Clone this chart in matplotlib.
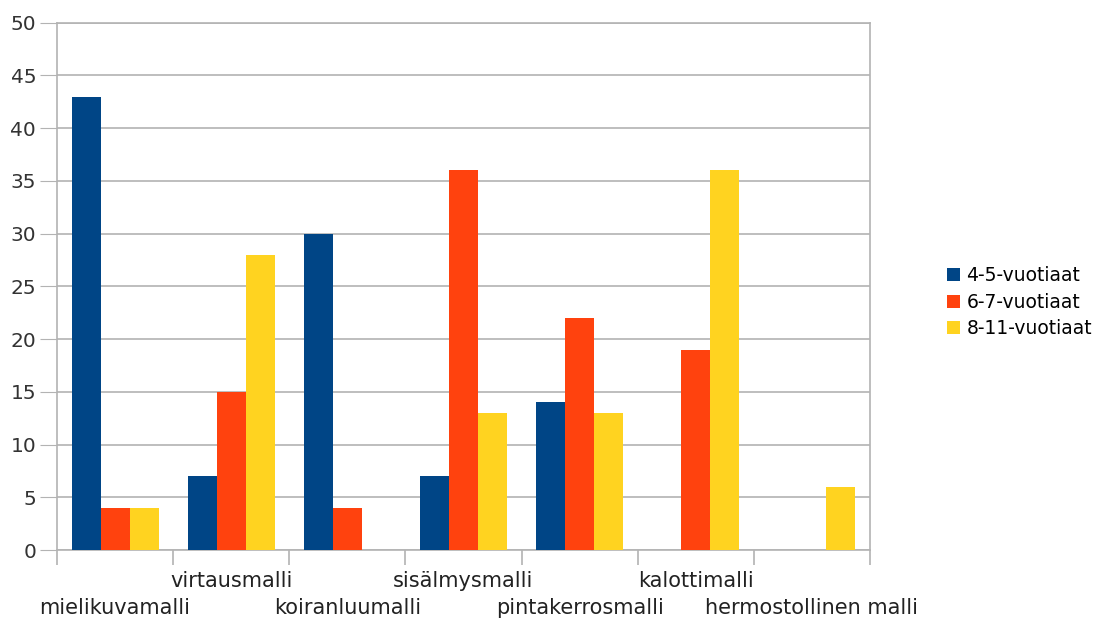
import matplotlib.pyplot as plt
import numpy as np

categories = ['mielikuvamalli', 'virtausmalli', 'koiranluumalli', 'sisälmysmalli',
              'pintakerrosmalli', 'kalottimalli', 'hermostollinen malli']
series_names = ['4-5-vuotiaat', '6-7-vuotiaat', '8-11-vuotiaat']
age_4_5 = [43, 7, 30, 7, 14, 0, 0]
age_6_7 = [4, 15, 4, 36, 22, 19, 0]
age_8_11 = [4, 28, 0, 13, 13, 36, 6]
colors = ['#004586', '#ff420e', '#ffd320']

plt.rcParams['font.family'] = ['DejaVu Sans']

fig = plt.figure(figsize=(11.1, 6.24), dpi=100)
ax = fig.add_axes([57 / 1110, 1 - 550 / 624, (870 - 57) / 1110, (550 - 22.7) / 624])

x = np.arange(len(categories)) + 0.5
width = 0.25
for k, (vals, name, col) in enumerate(zip([age_4_5, age_6_7, age_8_11], series_names, colors)):
    ax.bar(x + (k - 1) * width, vals, width, color=col, label=name, zorder=3)

ax.set_xlim(0, len(categories))
ax.set_ylim(0, 50)
ax.set_yticks(np.arange(0, 51, 5))
ax.yaxis.grid(True, color='#b3b3b3', linewidth=1.2, zorder=0)
ax.tick_params(axis='y', length=12, color='#b3b3b3', labelsize=14.5, labelcolor='#333333', pad=3)

# category boundaries as tick marks, labels placed in two staggered rows
ax.set_xticks(np.arange(0, len(categories) + 1))
ax.set_xticklabels([])
ax.tick_params(axis='x', length=11, color='#b3b3b3', width=1.2)
for i, name in enumerate(categories):
    y = -0.11 if i % 2 == 0 else -0.058
    ax.text(x[i], y, name, transform=ax.get_xaxis_transform(), ha='center', va='center',
            fontsize=15, color='#222222')

for sp in ax.spines.values():
    sp.set_color('#b3b3b3')
    sp.set_linewidth(1.2)

leg = ax.legend(loc='center left', bbox_to_anchor=(1.085, 0.47), frameon=False,
                fontsize=13.5, handlelength=0.7, handleheight=0.7, handletextpad=0.35,
                labelspacing=0.4, borderaxespad=0)

fig.savefig('out.png')
